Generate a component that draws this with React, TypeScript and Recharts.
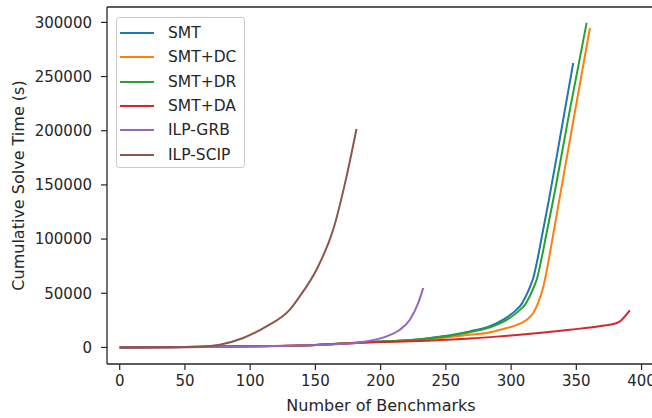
import React from "react";
import { LineChart, Line, XAxis, YAxis, Legend, ReferenceLine } from "recharts";

// ---- data (x = number of benchmarks, y = cumulative solve time in s) ----
const smtX = [0, 50, 100, 150, 184, 235, 268.4, 283.7, 294, 304.2, 308, 311, 314, 317, 320, 324.1, 329, 338, 347.6];
const smtY = [0, 300, 1000, 2300, 4500, 8300, 14800, 19500, 25600, 34900, 40000, 46500, 54500, 64000, 80000, 105600, 136300, 197000, 262500];

const smtDcX = [0, 50, 100, 150, 184, 235, 268.4, 281.2, 294, 306.7, 312, 317, 321, 324.5, 327.5, 331.5, 337.4, 349, 360.4];
const smtDcY = [0, 300, 1000, 2300, 4400, 7400, 11700, 13300, 17000, 21900, 25500, 31700, 42000, 55000, 72000, 99000, 139400, 218000, 294800];

const smtDrX = [0, 50, 100, 150, 184, 235, 268.4, 286, 297, 307, 311, 314, 317, 320, 323, 327.2, 332.3, 345, 357.9];
const smtDrY = [0, 300, 1000, 2300, 4500, 8000, 14000, 19500, 25600, 34900, 40000, 46500, 54500, 64000, 80000, 105600, 136300, 219000, 299500];

const smtDaX = [0, 50, 100, 150, 184, 235, 268.4, 291, 345, 370, 381, 384.5, 387.5, 391.1];
const smtDaY = [0, 300, 1000, 2200, 4200, 6200, 8200, 10200, 16300, 20000, 22500, 25000, 29000, 34200];

const grbX = [0, 50, 100, 150, 184, 191.7, 204.5, 214.7, 222.4, 228.8, 232.6];
const grbY = [0, 250, 900, 2200, 4600, 6200, 10200, 16300, 25600, 41000, 54800];

const scipX = [0, 30, 61.3, 76.7, 94.6, 112.5, 130.4, 138, 150.8, 163.6, 173.9, 181.5];
const scipY = [0, 150, 700, 2500, 8700, 19400, 34800, 47100, 71700, 108600, 157900, 201600];

const xTicks = [0, 50, 100, 150, 200, 250, 300, 350, 400];
const yTicks = [0, 50000, 100000, 150000, 200000, 250000, 300000];

const seriesNames = ["SMT", "SMT+DC", "SMT+DR", "SMT+DA", "ILP-GRB", "ILP-SCIP"];
const seriesColors = ["#1f77b4", "#ff7f0e", "#2ca02c", "#d62728", "#9467bd", "#8c564b"];
const seriesXs = [smtX, smtDcX, smtDrX, smtDaX, grbX, scipX];
const seriesYs = [smtY, smtDcY, smtDrY, smtDaY, grbY, scipY];

const X_MIN = -9.74;
const X_MAX = 410.3;
const Y_MIN = -15300;
const Y_MAX = 314200;

const series = seriesNames.map((name, i) => ({
  name,
  color: seriesColors[i],
  data: seriesXs[i].map((x, j) => ({ x, y: seriesYs[i][j] })),
}));

const FONT = "'DejaVu Sans', sans-serif";
const INK = "#262626";

const LegendBox = () => (
  <div
    style={{
      position: "relative",
      width: 129,
      height: 151,
      boxSizing: "border-box",
      border: "1px solid #cccccc",
      borderRadius: 3,
      background: "rgba(255,255,255,0.8)",
      fontFamily: FONT,
      fontSize: 15.5,
      color: INK,
    }}
  >
    {series.map((s, i) => (
      <div
        key={s.name}
        style={{ position: "absolute", left: 0, top: 15 + i * 24.3 - 12, height: 24, width: 127 }}
      >
        <div
          style={{ position: "absolute", left: 3, top: 11, width: 34, height: 2.2, background: s.color }}
        />
        <div style={{ position: "absolute", left: 51, top: 0, lineHeight: "24px", whiteSpace: "nowrap" }}>
          {s.name}
        </div>
      </div>
    ))}
  </div>
);

export default function App() {
  return (
    <div
      style={{
        position: "absolute",
        left: 0,
        top: 0,
        width: 652,
        height: 418,
        overflow: "hidden",
        background: "#fff",
      }}
    >
      <LineChart width={660} height={418} margin={{ top: 7, right: 5, bottom: 0, left: 0 }}>
        <XAxis
          dataKey="x"
          type="number"
          domain={[X_MIN, X_MAX]}
          allowDataOverflow
          ticks={xTicks}
          height={54}
          tickSize={6}
          tickMargin={5}
          axisLine={{ stroke: INK, strokeWidth: 1.3 }}
          tickLine={{ stroke: INK, strokeWidth: 1.2 }}
          tick={{ fontSize: 15, fill: INK, fontFamily: FONT }}
          label={{
            value: "Number of Benchmarks",
            position: "insideBottom",
            offset: 7,
            style: { fontSize: 16, fill: INK, fontFamily: FONT },
          }}
        />
        <YAxis
          type="number"
          domain={[Y_MIN, Y_MAX]}
          allowDataOverflow
          ticks={yTicks}
          width={107}
          tickSize={6}
          tickMargin={9}
          axisLine={{ stroke: INK, strokeWidth: 1.3 }}
          tickLine={{ stroke: INK, strokeWidth: 1.2 }}
          tick={{ fontSize: 15, fill: INK, fontFamily: FONT }}
          tickFormatter={(v: number) => String(v)}
          label={{
            value: "Cumulative Solve Time (s)",
            angle: -90,
            position: "insideLeft",
            offset: 18,
            style: { fontSize: 16, fill: INK, fontFamily: FONT, textAnchor: "middle" },
          }}
        />
        <ReferenceLine y={Y_MAX} stroke={INK} strokeWidth={1.3} ifOverflow="visible" />
        {series.map((s) => (
          <Line
            key={s.name}
            data={s.data}
            dataKey="y"
            name={s.name}
            type="monotone"
            stroke={s.color}
            strokeWidth={2}
            dot={false}
            activeDot={false}
            isAnimationActive={false}
          />
        ))}
        <Legend
          layout="vertical"
          align="center"
          verticalAlign="middle"
          wrapperStyle={{ left: 116, top: 17, width: 129, height: 151 }}
          content={() => <LegendBox />}
        />
      </LineChart>
    </div>
  );
}
